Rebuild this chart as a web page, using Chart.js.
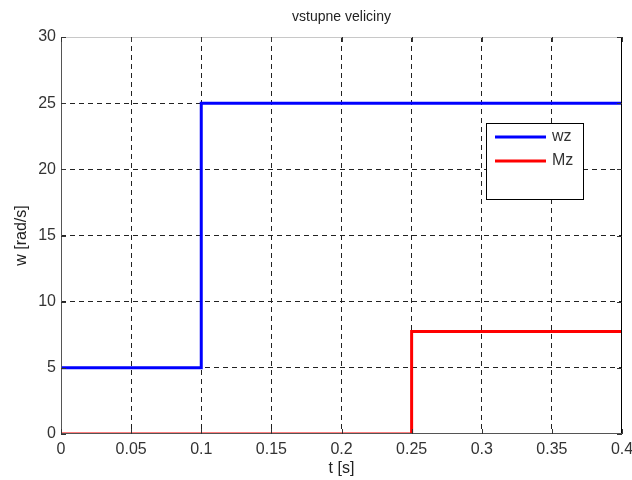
<!DOCTYPE html>
<html>
<head>
<meta charset="utf-8">
<script src="https://cdn.jsdelivr.net/npm/chart.js@4.4.1/dist/chart.umd.min.js"></script>
<style>
  html, body { margin: 0; padding: 0; background: #fff; }
  #wrap { width: 632px; height: 480px; }
</style>
</head>
<body>
<div id="wrap"><canvas id="graf" width="632" height="480"></canvas></div>
<script>
// vstupne veliciny - skokove zmeny wz a Mz
const wzCas = [0, 0.1, 0.4];
const wzHodnoty = [5, 25, 25];
const mzCas = [0, 0.25, 0.4];
const mzHodnoty = [0, 7.75, 7.75];

const xTickLabels = ['0', '0.05', '0.1', '0.15', '0.2', '0.25', '0.3', '0.35', '0.4'];
const yTickLabels = ['0', '5', '10', '15', '20', '25', '30'];

const pisFont = "'Liberation Sans', Arial, sans-serif";

function body(casy, hodnoty) {
    return casy.map((t, i) => ({ x: t, y: hodnoty[i] }));
}

// mriezka bez okrajovych ciar (tie kresli ramik)
function farbaMriezky(ctx) {
    const s = ctx.scale;
    if (ctx.tick && (Math.abs(ctx.tick.value - s.min) < 1e-9 || Math.abs(ctx.tick.value - s.max) < 1e-9)) return 'rgba(0,0,0,0)';
    return '#222';
}

// ramik okolo grafu + kratke ciarky dovnutra
const ramik = {
    id: 'ramik',
    afterDatasetsDraw(chart) {
        const { ctx, chartArea: a, scales } = chart;
        ctx.save();
        ctx.lineWidth = 1;
        ctx.setLineDash([]);
        // horna hrana
        ctx.strokeStyle = '#c8c8c8';
        ctx.beginPath(); ctx.moveTo(a.left, a.top + 0.5); ctx.lineTo(a.right, a.top + 0.5); ctx.stroke();
        // prava hrana
        ctx.strokeStyle = '#000';
        ctx.beginPath(); ctx.moveTo(a.right - 0.5, a.top); ctx.lineTo(a.right - 0.5, a.bottom); ctx.stroke();
        // lava a dolna
        ctx.strokeStyle = '#555';
        ctx.beginPath(); ctx.moveTo(a.left + 0.5, a.top); ctx.lineTo(a.left + 0.5, a.bottom); ctx.stroke();
        ctx.beginPath(); ctx.moveTo(a.left, a.bottom - 0.5); ctx.lineTo(a.right, a.bottom - 0.5); ctx.stroke();

        const dl = 5;
        ctx.strokeStyle = '#333';
        scales.x.ticks.forEach(t => {
            const px = Math.round(scales.x.getPixelForValue(t.value)) + 0.5;
            ctx.beginPath(); ctx.moveTo(px, a.bottom); ctx.lineTo(px, a.bottom - dl); ctx.stroke();
            ctx.beginPath(); ctx.moveTo(px, a.top); ctx.lineTo(px, a.top + dl); ctx.stroke();
        });
        scales.y.ticks.forEach(t => {
            const py = Math.round(scales.y.getPixelForValue(t.value)) + 0.5;
            ctx.beginPath(); ctx.moveTo(a.left, py); ctx.lineTo(a.left + dl, py); ctx.stroke();
            ctx.beginPath(); ctx.moveTo(a.right, py); ctx.lineTo(a.right - dl, py); ctx.stroke();
        });
        ctx.restore();
    }
};

// legenda vnutri grafu v pravom hornom rohu
const legendaVnutri = {
    id: 'legendaVnutri',
    afterDraw(chart) {
        const { ctx } = chart;
        const x0 = 486, y0 = 123, w = 97, h = 76;
        ctx.save();
        ctx.fillStyle = '#fff';
        ctx.fillRect(x0, y0, w, h);
        ctx.strokeStyle = '#000';
        ctx.lineWidth = 1;
        ctx.strokeRect(x0 + 0.5, y0 + 0.5, w, h);
        ctx.font = '16px ' + pisFont;
        ctx.textBaseline = 'middle';
        chart.data.datasets.forEach((ds, i) => {
            const yy = y0 + 14 + i * 24;
            ctx.strokeStyle = ds.borderColor;
            ctx.lineWidth = 3;
            ctx.beginPath(); ctx.moveTo(x0 + 9, yy); ctx.lineTo(x0 + 60, yy); ctx.stroke();
            ctx.fillStyle = '#333';
            ctx.fillText(ds.label, x0 + 66, yy);
        });
        ctx.restore();
    }
};

new Chart(document.getElementById('graf'), {
    type: 'line',
    data: {
        datasets: [
            { label: 'wz', data: body(wzCas, wzHodnoty), borderColor: '#0000ff', borderWidth: 3, stepped: 'before', pointRadius: 0, fill: false },
            { label: 'Mz', data: body(mzCas, mzHodnoty), borderColor: '#ff0000', borderWidth: 3, stepped: 'before', pointRadius: 0, fill: false }
        ]
    },
    options: {
        responsive: false,
        animation: false,
        layout: { padding: { left: 0, right: 10, top: 0, bottom: 0 } },
        plugins: {
            legend: { display: false },
            tooltip: { enabled: false },
            title: {
                display: true,
                text: 'vstupne veliciny',
                fullSize: false,
                color: '#222',
                font: { family: pisFont, size: 14, weight: 'normal', lineHeight: 1.2 },
                padding: { top: 9, bottom: 11.2 }
            }
        },
        scales: {
            x: {
                type: 'linear',
                min: 0, max: 0.4,
                afterFit: s => { s.height = 46; s.paddingLeft = 0; s.paddingRight = 0; },
                afterBuildTicks: s => { s.ticks = xTickLabels.map((l, i) => ({ value: i * 0.05 })); },
                border: { display: false, dash: [5, 4] },
                grid: { color: farbaMriezky, lineWidth: 1, drawTicks: false },
                ticks: {
                    padding: 6,
                    color: '#333',
                    font: { family: pisFont, size: 16 },
                    maxRotation: 0,
                    autoSkip: false,
                    callback: (v, i) => xTickLabels[i]
                },
                title: { display: true, text: 't [s]', color: '#222', font: { family: pisFont, size: 16 }, padding: { top: 0, bottom: 2 } }
            },
            y: {
                min: 0, max: 30,
                afterFit: s => { s.width = 61; s.paddingTop = 0; s.paddingBottom = 0; },
                afterBuildTicks: s => { s.ticks = yTickLabels.map(l => ({ value: Number(l) })); },
                border: { display: false, dash: [5, 4] },
                grid: { color: farbaMriezky, lineWidth: 1, drawTicks: false },
                ticks: {
                    padding: 5,
                    color: '#333',
                    font: { family: pisFont, size: 16 },
                    callback: (v, i) => yTickLabels[i]
                },
                title: { display: true, text: 'w [rad/s]', color: '#222', font: { family: pisFont, size: 16 }, padding: { top: 12, bottom: 0 } }
            }
        }
    },
    plugins: [ramik, legendaVnutri]
});
</script>
</body>
</html>
